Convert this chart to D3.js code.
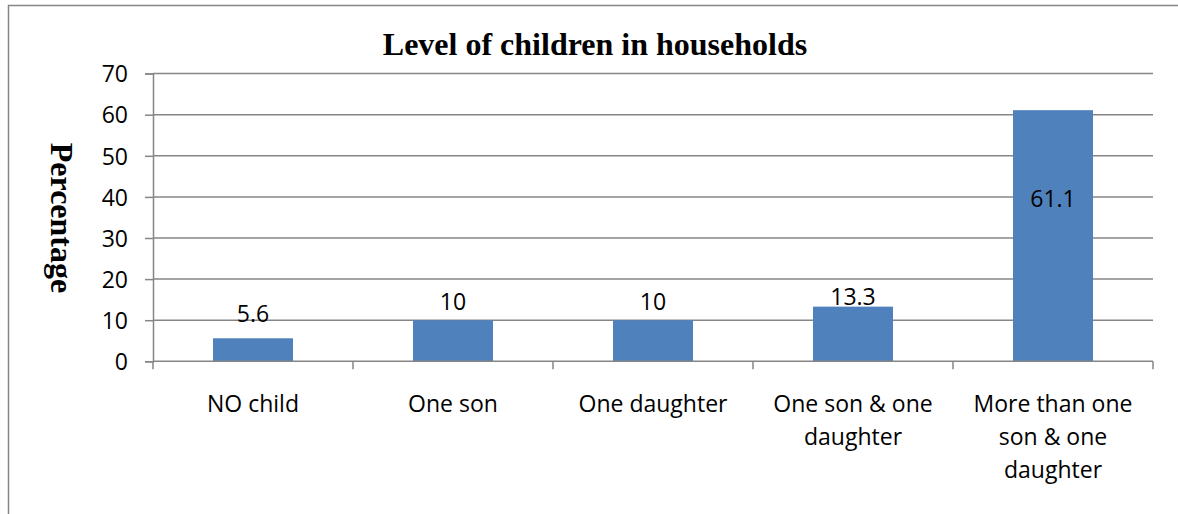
<!DOCTYPE html>
<html><head><meta charset="utf-8">
<script src="https://cdn.jsdelivr.net/npm/d3@7"></script>
<style>
html,body{margin:0;padding:0;background:#fff;}
svg{display:block;}
</style></head>
<body>
<svg id="c" width="1178" height="514"></svg>
<script>
const categories = [["NO child"],["One son"],["One daughter"],["One son & one","daughter"],["More than one","son & one","daughter"]];
const values = [5.6, 10, 10, 13.3, 61.1];
const valueLabels = ["5.6","10","10","13.3","61.1"];
const yTicks = [0,10,20,30,40,50,60,70];
const titleText = "Level of children in households";
const yTitle = "Percentage";

const svg = d3.select("#c");
const grid = "#868686";
const m = {left:153, right:1153, top:73.6, bottom:361.3};
const fs = 23;

svg.append("rect").attr("x",8.5).attr("y",5.5).attr("width",1200).attr("height",600)
  .attr("fill","none").attr("stroke",grid).attr("stroke-width",1.5);

const x = d3.scaleBand().domain(d3.range(categories.length)).range([m.left,m.right]).paddingInner(0).paddingOuter(0);
const y = d3.scaleLinear().domain([0,70]).range([m.bottom,m.top]);

// gridlines
svg.append("g").selectAll("line").data(yTicks.filter(d=>d>0)).join("line")
  .attr("x1",m.left).attr("x2",m.right).attr("y1",d=>y(d)).attr("y2",d=>y(d))
  .attr("stroke",grid).attr("stroke-width",1.5);

// y axis
const ya = svg.append("g").attr("transform",`translate(${m.left},0)`)
  .call(d3.axisLeft(y).tickValues(yTicks).tickSize(8).tickPadding(17).tickFormat(d3.format("d")));
ya.select(".domain").attr("stroke",grid).attr("stroke-width",1.5);
ya.selectAll(".tick line").attr("stroke",grid).attr("stroke-width",1.5);
ya.selectAll(".tick text").attr("font-family","'Open Sans'").attr("font-size",fs).attr("fill","#000").attr("dy","0.36em");

// bars
const bw = x.bandwidth()*0.4;
svg.append("g").selectAll("rect").data(values).join("rect")
  .attr("x",(d,i)=>x(i)+x.bandwidth()/2-bw/2).attr("width",bw)
  .attr("y",d=>y(d)).attr("height",d=>y(0)-y(d)).attr("fill","#4F81BD");

// x axis
svg.append("line").attr("x1",m.left).attr("x2",m.right).attr("y1",m.bottom).attr("y2",m.bottom)
  .attr("stroke",grid).attr("stroke-width",1.5);
const bounds = d3.range(categories.length+1).map(i=> i<categories.length ? x(i) : m.right);
svg.append("g").selectAll("line").data(bounds).join("line")
  .attr("x1",d=>d).attr("x2",d=>d).attr("y1",m.bottom).attr("y2",m.bottom+8)
  .attr("stroke",grid).attr("stroke-width",1.5);

// category labels
const cl = svg.append("g").selectAll("text").data(categories).join("text")
  .attr("text-anchor","middle").attr("font-family","'Open Sans'").attr("font-size",fs).attr("fill","#000")
  .attr("transform",(d,i)=>`translate(${x(i)+x.bandwidth()/2},412)`);
cl.selectAll("tspan").data(d=>d).join("tspan").attr("x",0).attr("y",(d,j)=>j*33).text(d=>d);

// value labels
const labelDy = [-16,-10,-10,-2,null];
svg.append("g").selectAll("text").data(values).join("text")
  .attr("text-anchor","middle").attr("font-family","'Open Sans'").attr("font-size",fs).attr("fill","#000")
  .attr("x",(d,i)=>x(i)+x.bandwidth()/2)
  .attr("y",(d,i)=> labelDy[i]===null ? y(40)+10 : y(d)+labelDy[i])
  .text((d,i)=>valueLabels[i]);

// title
svg.append("text").attr("x",595).attr("y",55).attr("text-anchor","middle")
  .attr("font-family","'Liberation Serif'").attr("font-weight","bold").attr("font-size",32).attr("fill","#000")
  .text(titleText);

// y title
svg.append("text").attr("transform","translate(51,218) rotate(90)").attr("text-anchor","middle")
  .attr("font-family","'Liberation Serif'").attr("font-weight","bold").attr("font-size",32).attr("fill","#000")
  .text(yTitle);
</script>
</body></html>
